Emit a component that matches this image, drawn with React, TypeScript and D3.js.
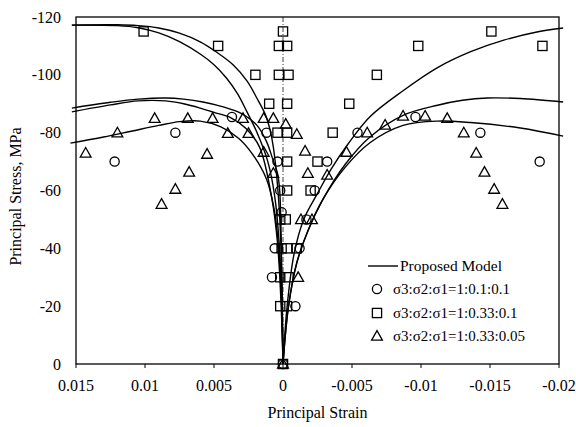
import React from 'react';
import * as d3 from 'd3';

const W = 576;
const H = 427;

// Axis ticks
const strainTicks = [0.015, 0.01, 0.005, 0, -0.005, -0.01, -0.015, -0.02];
const strainTickLabels = ['0.015', '0.01', '0.005', '0', '-0.005', '-0.01', '-0.015', '-0.02'];
const stressTicks = [0, -20, -40, -60, -80, -100, -120];
const stressTickLabels = ['0', '-20', '-40', '-60', '-80', '-100', '-120'];

const legendLabels = ['Proposed Model', 'σ3:σ2:σ1=1:0.1:0.1', 'σ3:σ2:σ1=1:0.33:0.1', 'σ3:σ2:σ1=1:0.33:0.05'];

// Test data: [principal strain, principal stress (MPa)]
const circlePoints: [number, number][] = [
  [0, 0], [0.0122, -70], [0.0078, -80], [0.0037, -85.4], [0.0012, -80], [0.0004, -70],
  [0.0002, -60], [0.0001, -52.5], [0.0006, -40], [0.0008, -30],
  [-0.0009, -20], [-0.0012, -40], [-0.0017, -50], [-0.0023, -60], [-0.0032, -70],
  [-0.0054, -80], [-0.0096, -85.4], [-0.0143, -80], [-0.0186, -70],
];

const squarePoints: [number, number][] = [
  [0, 0], [0.0002, -20], [-0.0003, -20], [0.0002, -30], [-0.0004, -30],
  [0.0001, -40], [-0.0003, -40], [-0.001, -40], [0.0002, -50], [-0.0002, -50],
  [-0.0003, -60], [-0.002, -60], [-0.0003, -70], [-0.0025, -70],
  [0.0004, -80], [-0.0003, -80], [-0.0036, -80],
  [0.001, -90], [-0.0003, -90], [-0.0048, -90],
  [0.002, -100], [0.0003, -100], [-0.0004, -100], [-0.0068, -100],
  [0.0047, -110], [0.0003, -110], [-0.0003, -110], [-0.0098, -110], [-0.0188, -110],
  [0, -115], [0.0101, -115], [-0.0151, -115],
];

const trianglePoints: [number, number][] = [
  [0, 0], [-0.0011, -30], [-0.0013, -50], [-0.0021, -50],
  [0.0007, -66], [0.0014, -73.3], [-0.0018, -66], [-0.0016, -73.7], [-0.001, -79.5], [-0.0002, -83],
  [0.0007, -85], [0.0014, -85], [0.0029, -85], [0.0051, -85], [0.0069, -85], [0.0093, -85],
  [0.0025, -79.8], [0.004, -79.8], [0.012, -80], [0.0143, -73],
  [0.0055, -72.6], [0.0068, -66.4], [0.0078, -60.5], [0.0088, -55.3],
  [-0.0032, -65.4], [-0.0046, -73.3], [-0.0061, -80], [-0.0074, -82.7],
  [-0.0087, -85.8], [-0.0103, -85.8], [-0.0119, -85],
  [-0.0131, -80], [-0.014, -73], [-0.0146, -66.4], [-0.0153, -60.5], [-0.0159, -55.3],
];

// Model curves: lateral (positive) strains
const modelLateralSquareOuter: [number, number][] = [
  [0, 0], [0.00008, -25], [0.00018, -45], [0.0004, -62], [0.0007, -75], [0.00094, -81],
  [0.0013, -86.5], [0.0019, -92], [0.0026, -97.8], [0.0036, -103.4], [0.0048, -107.8],
  [0.006, -111.4], [0.0075, -114.4], [0.009, -116.2], [0.0105, -117], [0.012, -117.3], [0.0153, -117.2],
];
const modelLateralSquareInner: [number, number][] = [
  [0, 0], [0.0001, -22], [0.00028, -42], [0.0006, -58], [0.0011, -70], [0.0019, -80.2],
  [0.0026, -87.1], [0.0033, -93.5], [0.0041, -98.9], [0.005, -103.5], [0.006, -107.2],
  [0.0075, -111.5], [0.009, -114.5], [0.0105, -116.3], [0.012, -117], [0.0153, -117.2],
];
const modelLateralCircleOuter: [number, number][] = [
  [0, 0], [0.00006, -25], [0.00014, -45], [0.00024, -60], [0.0004, -66], [0.00072, -70.5],
  [0.0012, -77], [0.0019, -82.6], [0.003, -86.6], [0.0044, -89], [0.0058, -90.6],
  [0.0072, -91.6], [0.0085, -92], [0.0105, -91.6], [0.0125, -90.5], [0.0153, -88.5],
];
const modelLateralCircleInner: [number, number][] = [
  [0, 0], [0.00015, -22], [0.0004, -42], [0.0008, -57], [0.0017, -75], [0.0027, -81.5],
  [0.0038, -85.2], [0.005, -87], [0.006, -88.5], [0.0072, -90], [0.0085, -91],
  [0.0105, -91], [0.0125, -89.6], [0.0153, -87.2],
];
const modelLateralTriangle: [number, number][] = [
  [0, 0], [0.0001, -20], [0.00035, -42], [0.0007, -55], [0.0012, -64], [0.0022, -72.5],
  [0.0032, -78], [0.0045, -82], [0.006, -84], [0.0075, -83.8], [0.009, -82.5],
  [0.011, -80.5], [0.013, -78.5], [0.0154, -76.4],
];

// Model curves: axial (negative) strains
const modelAxialSquare: [number, number][] = [
  [0, 0], [-0.0003, -20], [-0.0008, -38], [-0.0015, -50], [-0.0025, -59], [-0.0035, -67.5],
  [-0.0047, -76], [-0.0063, -85.5], [-0.0087, -94.5], [-0.0112, -102.5], [-0.0136, -108],
  [-0.016, -112], [-0.0184, -114.8], [-0.0203, -116.2],
];
const modelAxialCircle: [number, number][] = [
  [0, 0], [-0.0004, -20], [-0.001, -35], [-0.0018, -46], [-0.0029, -57], [-0.0045, -69],
  [-0.0063, -78.5], [-0.0087, -86], [-0.0112, -89.5], [-0.013, -91.2], [-0.0148, -92],
  [-0.0172, -91.8], [-0.0203, -90.6],
];
const modelAxialTriangle: [number, number][] = [
  [0, 0], [-0.0004, -20], [-0.001, -35], [-0.0018, -46], [-0.0029, -57], [-0.0045, -68],
  [-0.0063, -76.5], [-0.0087, -82.5], [-0.0112, -84], [-0.0136, -83.5], [-0.0172, -81.6],
  [-0.0203, -78.8],
];

const modelCurves = [
  modelLateralSquareOuter, modelLateralSquareInner, modelLateralCircleOuter,
  modelLateralCircleInner, modelLateralTriangle, modelAxialSquare, modelAxialCircle, modelAxialTriangle,
];

const FONT = "'Liberation Serif', 'Times New Roman', 'DejaVu Serif', serif";

const Circle = ({ x, y }: { x: number; y: number }) => (
  <circle cx={x} cy={y} r={4.6} fill="none" stroke="#000" strokeWidth={1.3} />
);
const Square = ({ x, y }: { x: number; y: number }) => (
  <rect x={x - 4.6} y={y - 4.6} width={9.2} height={9.2} fill="none" stroke="#000" strokeWidth={1.3} />
);
const Triangle = ({ x, y }: { x: number; y: number }) => (
  <path d={`M${x},${y - 5.4}L${x + 5.4},${y + 4.2}L${x - 5.4},${y + 4.2}Z`} fill="none" stroke="#000" strokeWidth={1.3} />
);

export default function App() {
  const left = 76, right = 559, top = 17, bottom = 364;
  const x = d3.scaleLinear().domain([0.015, -0.02]).range([left, right]);
  const y = d3.scaleLinear().domain([0, -120]).range([bottom, top]);

  const line = d3
    .line<[number, number]>()
    .x((d) => x(d[0]))
    .y((d) => y(d[1]))
    .curve(d3.curveCatmullRom.alpha(0.5));

  const legX = 368;
  const legRows = [266, 289, 313, 336];
  const txt = { fontFamily: FONT, fill: '#000' } as const;

  return (
    <svg
      width={W}
      height={H}
      style={{ position: 'absolute', left: 0, top: 0, background: '#fff', fontFamily: FONT }}
    >
      <rect x={0} y={0} width={W} height={H} fill="#fff" />

      {/* zero-strain reference line */}
      <line x1={x(0)} x2={x(0)} y1={top} y2={bottom} stroke="#444" strokeWidth={1} strokeDasharray="5,2,1,2" />

      {/* frame */}
      <rect x={left} y={top} width={right - left} height={bottom - top} fill="none" stroke="#000" strokeWidth={1.3} />

      {/* x ticks and labels */}
      {strainTicks.map((t, i) => (
        <g key={`xt${i}`}>
          <line x1={x(t)} x2={x(t)} y1={bottom} y2={bottom + 4} stroke="#000" strokeWidth={1} />
          <text x={x(t)} y={391} textAnchor="middle" fontSize={16} style={txt}>
            {strainTickLabels[i]}
          </text>
        </g>
      ))}

      {/* y tick labels */}
      {stressTicks.map((t, i) => (
        <text key={`yt${i}`} x={61} y={y(t) + 5.5} textAnchor="end" fontSize={16} style={txt}>
          {stressTickLabels[i]}
        </text>
      ))}

      {/* axis titles */}
      <text x={(left + right) / 2} y={418} textAnchor="middle" fontSize={16} style={txt}>
        Principal Strain
      </text>
      <text
        transform={`translate(21,${(top + bottom) / 2 + 6}) rotate(-90)`}
        textAnchor="middle"
        fontSize={16}
        style={txt}
      >
        Principal Stress, MPa
      </text>

      {/* model curves */}
      {modelCurves.map((c, i) => (
        <path key={`m${i}`} d={line(c) ?? ''} fill="none" stroke="#000" strokeWidth={1.4} />
      ))}

      {/* test points */}
      {circlePoints.map((p, i) => (
        <Circle key={`c${i}`} x={x(p[0])} y={y(p[1])} />
      ))}
      {squarePoints.map((p, i) => (
        <Square key={`s${i}`} x={x(p[0])} y={y(p[1])} />
      ))}
      {trianglePoints.map((p, i) => (
        <Triangle key={`t${i}`} x={x(p[0])} y={y(p[1])} />
      ))}

      {/* legend */}
      <line x1={legX} x2={legX + 30} y1={legRows[0]} y2={legRows[0]} stroke="#000" strokeWidth={1.4} />
      <text x={legX + 32} y={legRows[0] + 5} fontSize={15.5} style={txt}>{legendLabels[0]}</text>
      <Circle x={legX + 9} y={legRows[1]} />
      <text x={legX + 25} y={legRows[1] + 5} fontSize={15} style={txt}>{legendLabels[1]}</text>
      <Square x={legX + 9} y={legRows[2]} />
      <text x={legX + 25} y={legRows[2] + 5} fontSize={15} style={txt}>{legendLabels[2]}</text>
      <Triangle x={legX + 9} y={legRows[3]} />
      <text x={legX + 25} y={legRows[3] + 5} fontSize={15} style={txt}>{legendLabels[3]}</text>
    </svg>
  );
}
